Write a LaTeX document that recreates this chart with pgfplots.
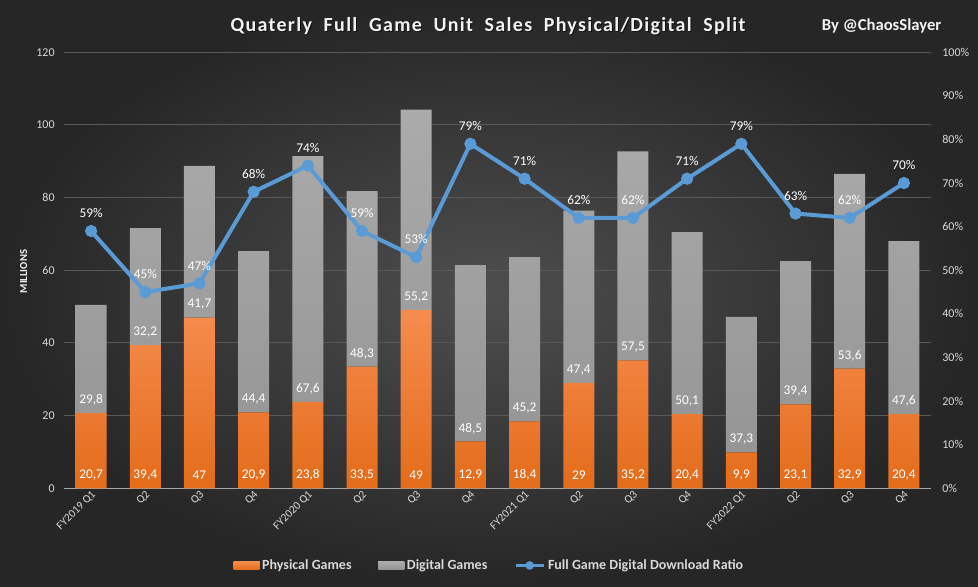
\documentclass[border=0pt]{standalone}
\usepackage{pgfplots}
\pgfplotsset{compat=1.18}
\usepackage{pgfplotstable}
\usepackage{fontspec}
\setmainfont{Carlito}
\newfontfamily\titlefont[LetterSpace=6.5]{Carlito}
\definecolor{bgin}{HTML}{4E4E4E}
\definecolor{bgout}{HTML}{262626}
\definecolor{gridc}{HTML}{595959}
\definecolor{axc}{HTML}{A6A6A6}
\definecolor{tickc}{HTML}{D9D9D9}
\definecolor{orangetop}{HTML}{F58C4E}
\definecolor{orangebot}{HTML}{E46C1A}
\definecolor{orangeleg}{HTML}{EE7B2C}
\definecolor{graytop}{HTML}{ABABAB}
\definecolor{graybot}{HTML}{959595}
\definecolor{grayleg}{HTML}{A2A2A2}
\definecolor{lineblue}{HTML}{5B9BD5}
\definecolor{titlec}{HTML}{F2F2F2}

\pgfplotstableread{
x base phys dig ratio
0  0 20.7 29.8 59
1  0 39.4 32.2 45
2  0 47   41.7 47
3  0 20.9 44.4 68
4  0 23.8 67.6 74
5  0 33.5 48.3 59
6  0 49   55.2 53
7  0 12.9 48.5 79
8  0 18.4 45.2 71
9  0 29   47.4 62
10 0 35.2 57.5 62
11 0 20.4 50.1 71
12 0 9.9  37.3 79
13 0 23.1 39.4 63
14 0 32.9 53.6 62
15 0 20.4 47.6 70
}\data

\pgfplotsset{
  base/.style={
    at={(48pt,73.3pt)}, anchor=south west,
    scale only axis, width=650.25pt, height=327pt,
    xmin=-0.5, xmax=15.5,
    major tick length=0pt,
    /pgf/number format/assume math mode=true,
    tick label style={text=tickc, font=\fontsize{9}{10}\selectfont},
  }
}

\begin{document}
\begin{tikzpicture}
\shade[inner color=bgin, outer color=bgout] (0,0) rectangle (733.5pt,439.5pt);

% bars
\begin{axis}[base,
  ymin=0, ymax=120, ytick={0,20,...,120},
  ymajorgrids, grid style={draw=gridc, line width=0.75pt},
  axis x line*=bottom, axis y line*=left,
  y axis line style={draw=none},
  x axis line style={draw=axc, line width=1pt},
  yticklabel style={xshift=-3.5pt},
  xtick=data,
  xticklabels={FY2019 Q1,Q2,Q3,Q4,FY2020 Q1,Q2,Q3,Q4,FY2021 Q1,Q2,Q3,Q4,FY2022 Q1,Q2,Q3,Q4},
  x tick label style={rotate=45, anchor=east, font=\fontsize{8.5}{10}\selectfont, xshift=2.5pt, yshift=-4pt},
  ybar stacked, bar width=23.25pt,
  ylabel={\bfseries MILLIONS}, ylabel style={text=titlec, font=\fontsize{8}{9}\selectfont\bfseries, at={(axis description cs:-0.037,0.497)}},
  legend columns=3,
  legend style={at={(0.491,-0.177)}, anchor=center, draw=none, fill=none,
    text=tickc, font=\bfseries\fontsize{10.5}{12}\selectfont,
    /tikz/every even column/.append style={column sep=18pt}},
]
\addplot[draw=none, top color=orangetop, bottom color=orangebot,
  legend image code/.code={\fill[orangeleg] (0pt,-3pt) rectangle (19.5pt,3pt);}]
  table[x=x,y=phys]{\data};
\addlegendentry{Physical Games}
\addplot[draw=none, top color=graytop, bottom color=graybot,
  legend image code/.code={\fill[grayleg] (0pt,-3pt) rectangle (19.5pt,3pt);}]
  table[x=x,y=dig]{\data};
\addlegendentry{Digital Games}
\addlegendimage{legend image code/.code={\draw[lineblue, line width=2.5pt] (0pt,0pt) -- (21pt,0pt); \fill[lineblue] (10.5pt,0pt) circle (3pt);}}
\addlegendentry{Full Game Digital Download Ratio}
\end{axis}

% data labels
\begin{axis}[base, hide axis, ymin=0, ymax=120,
  nodes near coords={\pgfmathprintnumber[use comma, fixed, precision=1]{\pgfplotspointmeta}},
  nodes near coords style={anchor=center, yshift=9.75pt, text=white, font=\fontsize{10}{11}\selectfont},
  point meta=explicit]
\addplot[draw=none, mark=none] table[x=x, y=base, meta=phys]{\data};
\addplot[draw=none, mark=none] table[x=x, y=phys, meta=dig]{\data};
\end{axis}

% ratio line
\begin{axis}[base,
  ymin=0, ymax=100, ytick={0,10,...,100},
  axis y line*=right, axis x line=none,
  y axis line style={draw=none},
  yticklabel={\pgfmathprintnumber{\tick}\%},
  yticklabel style={anchor=west, xshift=5pt},
]
\addplot[color=lineblue, line width=3pt, mark=*, mark size=3pt,
  nodes near coords={\pgfmathprintnumber{\pgfplotspointmeta}\%},
  nodes near coords style={text=white, anchor=south, yshift=5pt, font=\fontsize{10}{11}\selectfont}]
  table[x=x,y=ratio]{\data};
\end{axis}

\node[font=\titlefont\bfseries\fontsize{15}{17}\selectfont, text=black, opacity=0.5] at (366.75pt,419.25pt) {Quaterly\ \ Full\ \ Game\ \ Unit\ \ Sales\ \ Physical/Digital\ \ Split};
\node[font=\titlefont\bfseries\fontsize{15}{17}\selectfont, text=titlec] at (366pt,420pt) {Quaterly\ \ Full\ \ Game\ \ Unit\ \ Sales\ \ Physical/Digital\ \ Split};
\node[font=\bfseries\fontsize{12.5}{14}\selectfont, text=titlec, anchor=east] at (709.5pt,420pt) {By @ChaosSlayer};
\pgfresetboundingbox
\path (0,0) rectangle (733.5pt,439.5pt);
\end{tikzpicture}
\end{document}
